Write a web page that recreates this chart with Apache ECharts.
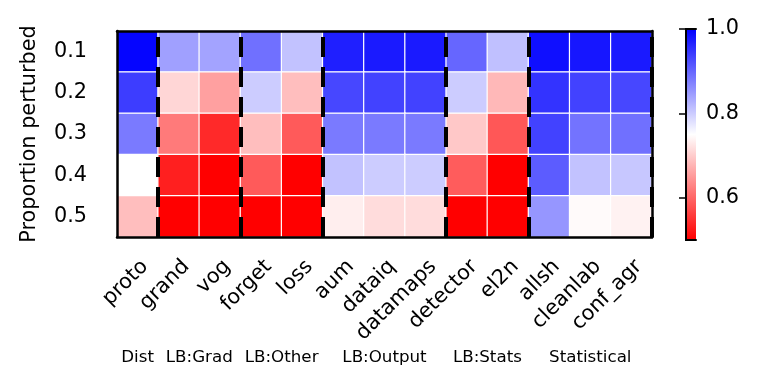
<!DOCTYPE html>
<html>
<head>
<meta charset="utf-8">
<script src="https://cdn.jsdelivr.net/npm/echarts@6/dist/echarts.min.js"></script>
<style>
html, body { margin: 0; background: #fff; }
#chart { width: 762px; height: 388px; }
</style>
</head>
<body>
<div id="chart"></div>
<script>
// data
const methods = ['proto', 'grand', 'vog', 'forget', 'loss', 'aum', 'dataiq', 'datamaps',
  'detector', 'el2n', 'allsh', 'cleanlab', 'conf_agr']
const proportions = ['0.1', '0.2', '0.3', '0.4', '0.5']
const groupLabels = ['Dist', 'LB:Grad', 'LB:Other', 'LB:Output', 'LB:Stats', 'Statistical']
const groupBreaks = [1, 3, 5, 8, 10, 13]
const colorbarTicks = [0.6, 0.8, 1.0]

const row01 = [0.995, 0.843, 0.840, 0.890, 0.810, 0.970, 0.975, 0.975, 0.900, 0.812, 0.985, 0.978, 0.975]
const row02 = [0.940, 0.710, 0.657, 0.800, 0.686, 0.930, 0.935, 0.935, 0.800, 0.680, 0.950, 0.935, 0.930]
const row03 = [0.880, 0.620, 0.540, 0.686, 0.588, 0.880, 0.880, 0.880, 0.696, 0.585, 0.935, 0.887, 0.890]
const row04 = [0.750, 0.530, 0.500, 0.588, 0.500, 0.810, 0.800, 0.800, 0.590, 0.500, 0.910, 0.810, 0.805]
const row05 = [0.686, 0.500, 0.500, 0.500, 0.500, 0.733, 0.716, 0.716, 0.500, 0.500, 0.853, 0.745, 0.737]

const rows = [row01, row02, row03, row04, row05]
const cells = []
rows.forEach((row, yi) => row.forEach((v, xi) => cells.push([xi, yi, v])))

const font = 'DejaVu Sans'
const fs = 20.8
const vmin = 0.5
const vmax = 1.0
const cmap = ['#ff0000', '#ffffff', '#0000ff'] // bwr reversed
const cbar = { left: 686, top: 29, width: 10, height: 211 }

const chart = echarts.init(document.getElementById('chart'))

const hiddenValueAxis = (extra) => Object.assign({
  type: 'value', min: 0, max: 1,
  axisLine: { show: true, lineStyle: { color: '#000', width: 2.5 } },
  axisTick: { show: false }, axisLabel: { show: false }, splitLine: { show: false }
}, extra)

chart.setOption({
  animation: false,
  textStyle: { fontFamily: font },
  grid: [
    { left: 117, top: 31, width: 535, height: 206 },
    Object.assign({}, cbar)
  ],
  xAxis: [
    {
      type: 'category', data: methods, gridIndex: 0, z: 5,
      axisLine: { lineStyle: { color: '#000', width: 2.5 } },
      axisTick: { alignWithLabel: true, length: 16, lineStyle: { color: '#000', width: 2 } },
      axisLabel: {
        rotate: 45, margin: 19, fontSize: fs, color: '#000', fontFamily: font,
        align: 'right', verticalAlign: 'top'
      }
    },
    hiddenValueAxis({ gridIndex: 0, max: 13, position: 'top', z: 5 }),
    hiddenValueAxis({ gridIndex: 1, z: 10, axisLine: { show: true, lineStyle: { color: '#000', width: 2 } } }),
    hiddenValueAxis({ gridIndex: 1, position: 'top', z: 10, axisLine: { show: true, lineStyle: { color: '#000', width: 2 } } })
  ],
  yAxis: [
    {
      type: 'category', data: proportions, inverse: true, gridIndex: 0, z: 5,
      name: 'Proportion perturbed', nameLocation: 'middle', nameGap: 77,
      nameTextStyle: { fontSize: fs, color: '#000', fontFamily: font },
      axisLine: { lineStyle: { color: '#000', width: 2.5 } },
      axisTick: { alignWithLabel: true, length: 16, lineStyle: { color: '#000', width: 2 } },
      axisLabel: { margin: 30, fontSize: fs, color: '#000', fontFamily: font }
    },
    hiddenValueAxis({ gridIndex: 0, position: 'right', z: 5 }),
    {
      type: 'value', gridIndex: 1, min: vmin, max: vmax, position: 'left', z: 10,
      axisLine: { show: true, lineStyle: { color: '#000', width: 2 } },
      axisTick: { show: true, length: 7, customValues: colorbarTicks, lineStyle: { color: '#000', width: 1.5 } },
      axisLabel: { show: false }, splitLine: { show: false }
    },
    {
      type: 'value', gridIndex: 1, min: vmin, max: vmax, position: 'right', z: 10,
      axisLine: { show: true, lineStyle: { color: '#000', width: 2 } },
      axisTick: { show: false },
      axisLabel: {
        show: true, margin: 10, fontSize: fs, color: '#000', fontFamily: font,
        customValues: colorbarTicks, formatter: v => v.toFixed(1)
      },
      splitLine: { show: false }
    }
  ],
  visualMap: {
    type: 'continuous', min: vmin, max: vmax, seriesIndex: 0, show: false,
    inRange: { color: cmap }
  },
  series: [
    {
      type: 'heatmap', xAxisIndex: 0, yAxisIndex: 0, data: cells,
      itemStyle: { borderColor: '#fff', borderWidth: 1.2 },
      emphasis: { disabled: true }
    },
    {
      type: 'line', xAxisIndex: 1, yAxisIndex: 1, data: [], silent: true,
      markLine: {
        silent: true, symbol: 'none', label: { show: false },
        lineStyle: { color: '#000', width: 4, type: [20, 10] },
        data: groupBreaks.map(b => ({ xAxis: b }))
      }
    }
  ]
})

// colour bar gradient + group labels centred under their column groups
const groupStarts = [0].concat(groupBreaks.slice(0, -1))
const groupText = groupLabels.map((t, i) => ({
  type: 'text',
  x: chart.convertToPixel({ xAxisIndex: 1 }, (groupStarts[i] + groupBreaks[i]) / 2),
  y: 358,
  style: { text: t, fontSize: 16.7, fontFamily: font, fill: '#000', align: 'center', verticalAlign: 'middle' }
}))

chart.setOption({
  graphic: [
    {
      type: 'rect', z: 1,
      shape: { x: cbar.left, y: cbar.top, width: cbar.width, height: cbar.height },
      style: {
        fill: new echarts.graphic.LinearGradient(0, 0, 0, 1, [
          { offset: 0, color: cmap[2] },
          { offset: 0.5, color: cmap[1] },
          { offset: 1, color: cmap[0] }
        ])
      }
    }
  ].concat(groupText)
})

window.addEventListener('resize', () => chart.resize())
</script>
</body>
</html>
